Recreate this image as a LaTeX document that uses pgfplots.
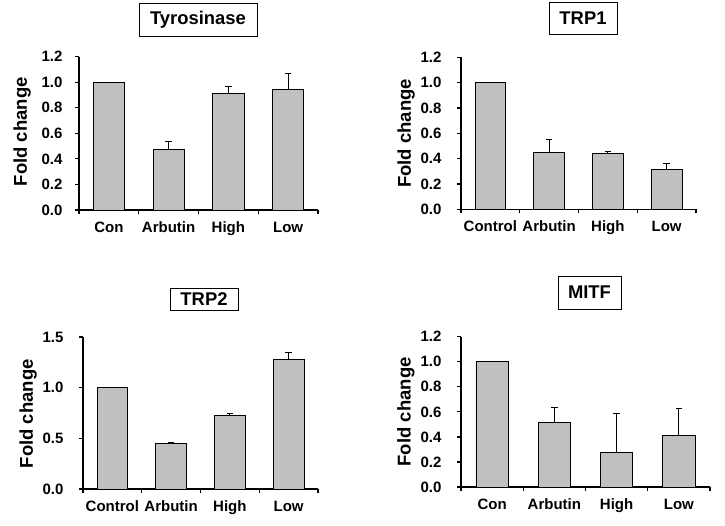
\documentclass[border=0pt]{standalone}
\usepackage{fontspec}
\setmainfont{Liberation Sans}
\usepackage{pgfplots}
\pgfplotsset{compat=1.18}
\definecolor{bargray}{RGB}{192,192,192}
\pgfplotsset{
  panel/.style={
    scale only axis, anchor=south west,
    ybar, bar width=0.52, ymin=0,
    xmin=-0.5, xmax=3.5,
    axis x line=bottom, axis y line=left,
    axis line style={-, line width=1.5pt},
    xtick={0,1,2,3},
    major x tick style={draw=none},
    minor xtick={-0.5,0.5,1.5,2.5,3.5},
    minor x tick style={line width=1.2pt, black},
    ytick style={line width=1.2pt, black},
    tick align=outside, major tick length=4pt, minor tick length=4pt,
    /pgf/number format/.cd, fixed, fixed zerofill, precision=1, assume math mode=true, /pgfplots/.cd,
    tick label style={font=\fontsize{15}{18}\selectfont\bfseries},
    xticklabel style={text height=11pt, text depth=3.5pt, yshift=-4pt},
    ylabel={Fold change},
    ylabel style={font=\fontsize{18.5}{22}\selectfont\bfseries, anchor=center},
  },
  barplot/.style={
    fill=bargray, draw=black, line width=0.8pt,
    error bars/.cd, y dir=plus, y explicit,
    error bar style={line width=1pt, black},
    error mark options={rotate=90, mark size=3.3pt, line width=1pt, black},
  },
}
\tikzset{titlebox/.style={draw, line width=0.8pt, inner sep=0pt,
  font=\fontsize{18.4}{22}\selectfont\bfseries}}

\begin{document}
\begin{tikzpicture}
\useasboundingbox (0,0) rectangle (725pt,525pt);

% Tyrosinase
\begin{axis}[panel, at={(79pt,315pt)}, width=239pt, height=153.3pt,
  ymax=1.2, ytick={0,0.2,...,1.2},
  yticklabel style={xshift=-9pt},
  ylabel style={at={(axis description cs:-0.238,0.51)}},
  xticklabels={Con,Arbutin,High,Low}]
\addplot[barplot] table[x index=0, y index=1, y error index=2] {
0 1.000 0.000
1 0.472 0.063
2 0.910 0.058
3 0.944 0.128
};
\end{axis}
\node[titlebox, minimum width=118pt, minimum height=33pt] at (198pt,505.5pt) {Tyrosinase};

% TRP1
\begin{axis}[panel, at={(461pt,315.7pt)}, width=235pt, height=152pt,
  ymax=1.2, ytick={0,0.2,...,1.2},
  yticklabel style={xshift=-12pt},
  ylabel style={at={(axis description cs:-0.234,0.5)}},
  xticklabels={Control,Arbutin,High,Low}]
\addplot[barplot] table[x index=0, y index=1, y error index=2] {
0 1.000 0.000
1 0.450 0.103
2 0.442 0.013
3 0.316 0.047
};
\end{axis}
\node[titlebox, minimum width=68pt, minimum height=32pt] at (583pt,507pt) {TRP1};

% TRP2
\begin{axis}[panel, at={(83pt,36pt)}, width=235pt, height=152pt,
  ymax=1.5, ytick={0,0.5,1,1.5},
  yticklabel style={xshift=-12pt},
  ylabel style={at={(axis description cs:-0.234,0.495)}},
  xticklabels={Control,Arbutin,High,Low}]
\addplot[barplot] table[x index=0, y index=1, y error index=2] {
0 1.000 0.000
1 0.450 0.010
2 0.725 0.023
3 1.277 0.072
};
\end{axis}
\node[titlebox, minimum width=68pt, minimum height=22pt] at (204pt,226pt) {TRP2};

% MITF
\begin{axis}[panel, at={(461pt,38pt)}, width=249pt, height=150.3pt,
  ymax=1.2, ytick={0,0.2,...,1.2},
  yticklabel style={xshift=-12pt},
  ylabel style={at={(axis description cs:-0.221,0.5)}},
  xticklabels={Con,Arbutin,High,Low}]
\addplot[barplot] table[x index=0, y index=1, y error index=2] {
0 1.000 0.000
1 0.516 0.120
2 0.277 0.311
3 0.412 0.211
};
\end{axis}
\node[titlebox, minimum width=63pt, minimum height=33pt] at (589.5pt,232.5pt) {MITF};
\end{tikzpicture}
\end{document}
